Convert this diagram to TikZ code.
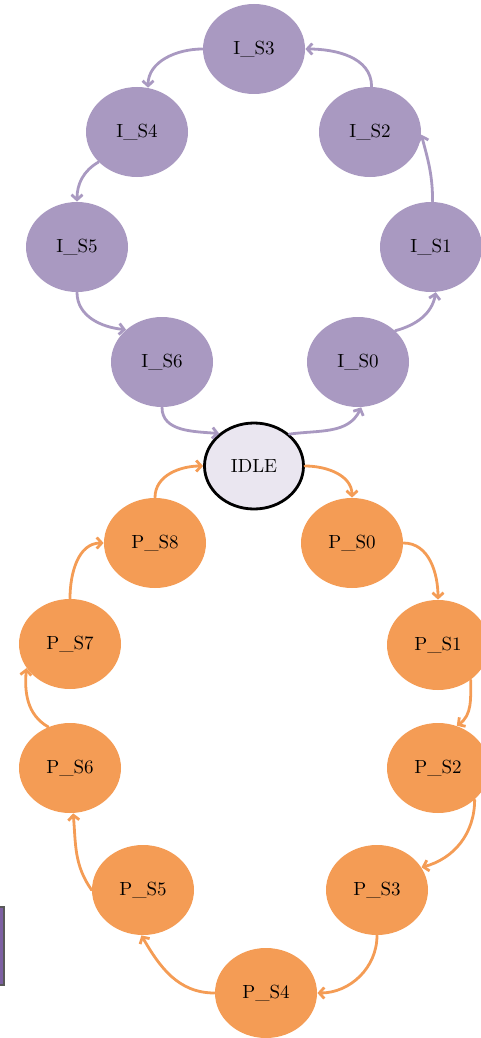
\documentclass[tikz,border=0pt]{standalone}
\usetikzlibrary{shapes.geometric,arrows.meta}
\definecolor{ifill}{HTML}{A999C1}
\definecolor{pfill}{HTML}{F49C55}
\definecolor{idlefill}{HTML}{EAE6F0}
\definecolor{legfill}{HTML}{7D60A2}
\tikzset{
  st/.style={ellipse, minimum width=51pt, minimum height=45pt, inner sep=0pt, font=\fontsize{9.5}{11}\selectfont},
  ist/.style={st, fill=ifill},
  pst/.style={st, fill=pfill},
  idlest/.style={ellipse, minimum width=49.5pt, minimum height=43pt, inner sep=0pt, fill=idlefill, draw=black, line width=1.4pt, font=\fontsize{9.5}{11}\selectfont},
  tr/.style={line width=1.4pt, line cap=round, -{Straight Barb[length=2.5pt,width=5.5pt]}},
  itr/.style={tr, draw=ifill},
  ptr/.style={tr, draw=pfill},
}
\begin{document}
\begin{tikzpicture}[x=0.5pt,y=-0.5pt]
\useasboundingbox (0,0) rectangle (481,1038);
% legend fragment
\node[draw=black!65, fill=legfill, line width=0.8pt, minimum width=7pt, minimum height=39pt, inner sep=0pt, anchor=east] (leg) at (5,946) {};
% purple cycle
\node[ist] (IS3) at (254,49) {I\_S3};
\node[ist] (IS4) at (137,132) {I\_S4};
\node[ist] (IS2) at (370,132) {I\_S2};
\node[ist] (IS5) at (77,247) {I\_S5};
\node[ist] (IS1) at (431,247) {I\_S1};
\node[ist] (IS6) at (162,362) {I\_S6};
\node[ist] (IS0) at (358,362) {I\_S0};
\node[idlest] (IDLE) at (254,466) {IDLE};
% orange cycle
\node[pst] (PS8) at (155,543) {P\_S8};
\node[pst] (PS0) at (352,543) {P\_S0};
\node[pst] (PS7) at (70,644) {P\_S7};
\node[pst] (PS1) at (438,645) {P\_S1};
\node[pst] (PS6) at (70,768) {P\_S6};
\node[pst] (PS2) at (438,768) {P\_S2};
\node[pst] (PS5) at (143,890) {P\_S5};
\node[pst] (PS3) at (377,890) {P\_S3};
\node[pst] (PS4) at (266,993) {P\_S4};
% purple edges
\draw[itr] (IDLE.42) to[out=8,in=-115] (IS0.-86);
\draw[itr] (IS0.40) to[out=15,in=-100] (IS1.-84);
\draw[itr] (IS1.88) to[out=90,in=-75] (IS2.-3);
\draw[itr] (IS2.88) to[out=90,in=0] (IS3.0);
\draw[itr] (IS3.180) to[out=180,in=90] (IS4.76);
\draw[itr] (IS4.218) to[out=210,in=90] (IS5.90);
\draw[itr] (IS5.-90) to[out=-90,in=175] (IS6.138);
\draw[itr] (IS6.-90) to[out=-90,in=175] (IDLE.137);
% orange edges
\draw[ptr] (IDLE.0) to[out=0,in=90] (PS0.90);
\draw[ptr] (PS0.0) to[out=0,in=90] (PS1.90);
\draw[ptr] (PS1.-47) to[out=-90,in=35] (PS2.66);
\draw[ptr] (PS2.-41) to[out=-90,in=15] (PS3.27);
\draw[ptr] (PS3.-90) to[out=-90,in=0] (PS4.0);
\draw[ptr] (PS4.180) to[out=180,in=-60] (PS5.-92);
\draw[ptr] (PS5.180) to[out=125,in=-85] (PS6.-86);
\draw[ptr] (PS6.118) to[out=150,in=-95] (PS7.209);
\draw[ptr] (PS7.90) to[out=90,in=180] (PS8.180);
\draw[ptr] (PS8.90) to[out=90,in=180] (IDLE.180);
\end{tikzpicture}
\end{document}
